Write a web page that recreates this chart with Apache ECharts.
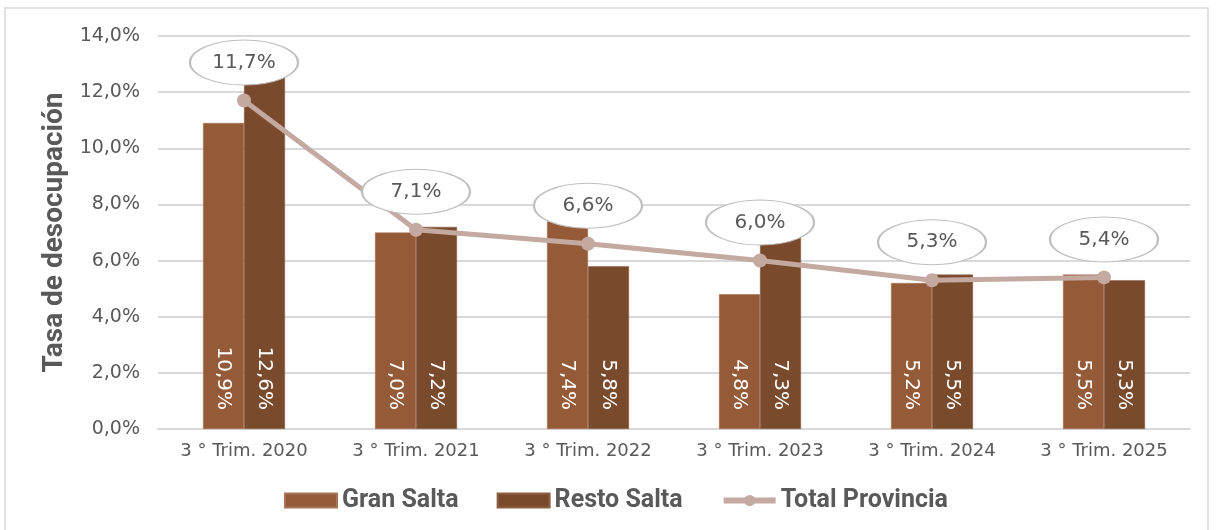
<!DOCTYPE html>
<html>
<head>
<meta charset="utf-8">
<script src="https://cdn.jsdelivr.net/npm/echarts@6/dist/echarts.min.js"></script>
<style>
  html, body { margin: 0; padding: 0; background: #fff; }
  #main { width: 1217px; height: 530px; }
</style>
</head>
<body>
<div id="main"></div>
<script>
// datos
var categorias = ['3 ° Trim. 2020', '3 ° Trim. 2021', '3 ° Trim. 2022', '3 ° Trim. 2023', '3 ° Trim. 2024', '3 ° Trim. 2025'];
var granSalta = [10.9, 7.0, 7.4, 4.8, 5.2, 5.5];
var restoSalta = [12.6, 7.2, 5.8, 7.3, 5.5, 5.3];
var totalProvincia = [11.7, 7.1, 6.6, 6.0, 5.3, 5.4];

var fuente = '"DejaVu Sans", sans-serif';
var fuenteNegrita = 'Roboto, sans-serif';
var gris = '#595959';
// elipse para las etiquetas del total
var elipse = 'path://M0,50 A50,50 0 1,1 100,50 A50,50 0 1,1 0,50 Z';

function pct(v) {
    return v.toFixed(1).replace('.', ',') + '%';
}

var etiquetaBarra = {
    show: true,
    position: 'insideBottom',
    rotate: -90,
    align: 'right',
    verticalAlign: 'middle',
    distance: 19,
    color: '#fff',
    fontSize: 20,
    fontFamily: fuente,
    formatter: function (p) { return pct(p.value); }
};

var chart = echarts.init(document.getElementById('main'));
var option = {
    animation: false,
    graphic: [{
        type: 'rect',
        shape: { x: 5, y: 8, width: 1203, height: 530 },
        style: { fill: 'none', stroke: '#d9d9d9', lineWidth: 1.5 },
        silent: true
    }],
    grid: { left: 158, right: 27, top: 36, bottom: 101 },
    legend: {
        top: 483,
        left: 279,
        itemWidth: 52,
        itemHeight: 14,
        itemGap: 38,
        textStyle: { color: gris, fontSize: 25, fontWeight: 'bold', fontFamily: fuenteNegrita },
        data: [
            { name: 'Gran Salta', icon: 'rect', itemHeight: 12 },
            { name: 'Resto Salta', icon: 'rect' },
            { name: 'Total Provincia', itemStyle: { color: '#C4A9A1' }, lineStyle: { width: 6, color: '#C4A9A1' } }
        ]
    },
    xAxis: {
        type: 'category',
        data: categorias,
        axisLine: { lineStyle: { color: '#d9d9d9', width: 2 } },
        axisTick: { show: false },
        axisLabel: { color: gris, fontSize: 18, fontFamily: fuente, margin: 13, interval: 0 }
    },
    yAxis: {
        type: 'value',
        min: 0,
        max: 14,
        interval: 2,
        name: 'Tasa de desocupación',
        nameLocation: 'middle',
        nameGap: 84,
        nameTextStyle: { color: gris, fontSize: 28, fontWeight: 'bold', fontFamily: fuenteNegrita },
        axisLabel: {
            color: gris, fontSize: 19, fontFamily: fuente, margin: 18,
            formatter: function (v) { return pct(v); }
        },
        splitLine: { lineStyle: { color: '#d9d9d9', width: 2 } }
    },
    series: [
        {
            name: 'Gran Salta',
            type: 'bar',
            data: granSalta,
            barWidth: 41,
            barGap: '0%',
            itemStyle: { color: '#955A37', borderColor: '#a87356', borderWidth: 0.5 },
            label: etiquetaBarra
        },
        {
            name: 'Resto Salta',
            type: 'bar',
            data: restoSalta,
            barWidth: 41,
            itemStyle: { color: '#7A4A2D', borderColor: '#8d5f44', borderWidth: 0.5 },
            label: etiquetaBarra
        },
        {
            name: 'Total Provincia',
            type: 'line',
            data: totalProvincia,
            symbol: 'circle',
            symbolSize: 14,
            lineStyle: { color: '#C4A9A1', width: 5 },
            itemStyle: { color: '#C4A9A1' },
            z: 5
        },
        {
            name: 'etiquetas',
            type: 'scatter',
            data: totalProvincia,
            symbol: elipse,
            symbolSize: [108, 45],
            symbolOffset: [0, -38],
            itemStyle: { color: '#fff', opacity: 1, borderColor: '#bfbfbf', borderWidth: 1.5 },
            label: {
                show: true,
                position: 'inside',
                color: gris,
                fontSize: 20,
                fontFamily: fuente,
                formatter: function (p) { return pct(p.value); }
            },
            silent: true,
            z: 6
        }
    ]
};
chart.setOption(option);
</script>
</body>
</html>
